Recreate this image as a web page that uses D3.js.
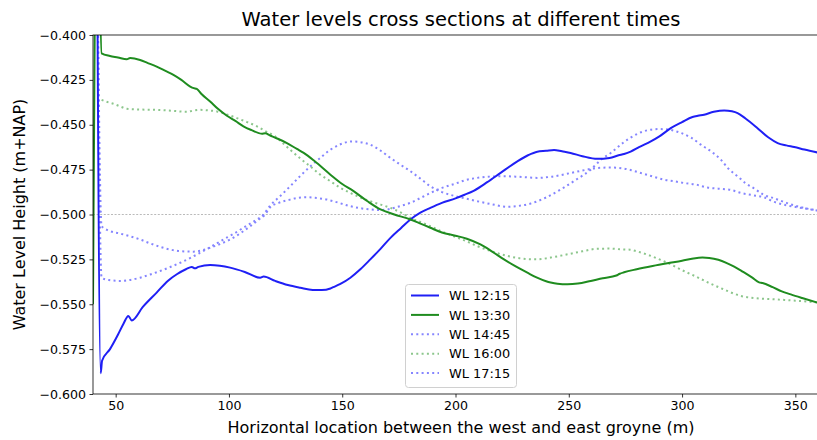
<!DOCTYPE html>
<html>
<head>
<meta charset="utf-8">
<script src="https://cdn.jsdelivr.net/npm/d3@7"></script>
<style>
  html, body { margin: 0; padding: 0; background: #fff; }
  svg { display: block; font-family: "DejaVu Sans", sans-serif; }
</style>
</head>
<body>
<svg id="chart" width="817" height="440"></svg>
<script>
// Water level along the cross section, [distance (m), level (m+NAP)]
const wl1215 = [
  [41.6, -0.30], [43.4, -0.5885], [44.0, -0.5815], [47.5, -0.575], [51, -0.567], [53.4, -0.561],
  [55.6, -0.5565], [57.1, -0.5590], [62, -0.5515], [68.1, -0.5435], [73, -0.537], [77, -0.5333],
  [81, -0.5305], [83.6, -0.5292], [85, -0.5300], [86.5, -0.5292], [91.7, -0.5282], [96, -0.5286],
  [100.5, -0.5296], [107, -0.532], [113.8, -0.5352], [115.3, -0.5346], [120.4, -0.537], [126, -0.5393],
  [131.5, -0.5408], [137, -0.5420], [141, -0.5421], [144.8, -0.5412], [146, -0.5405], [149, -0.5388],
  [153.6, -0.5352], [158, -0.5305], [162.4, -0.525], [167, -0.519], [171.3, -0.513], [176, -0.5075],
  [180.1, -0.5028], [184.5, -0.4990], [188.9, -0.4963], [194, -0.4935], [200, -0.4910], [204, -0.4890],
  [208, -0.4868], [214, -0.4820], [219.9, -0.4768], [227.3, -0.4704], [232, -0.4670], [236.1, -0.4650],
  [240, -0.4645], [243.5, -0.4640], [247, -0.4648], [250.8, -0.4657], [256, -0.4675], [262.6, -0.4690],
  [268, -0.4685], [272, -0.4670], [274.4, -0.4663], [277.3, -0.4650], [281, -0.4625], [286.2, -0.4593],
  [290, -0.4565], [295, -0.4519], [300, -0.4485], [304.6, -0.4457], [307, -0.4450], [309.7, -0.4444],
  [314, -0.4428], [318.6, -0.4420], [322, -0.4425], [324.5, -0.4435], [328, -0.4465], [333.3, -0.4519],
  [338, -0.4570], [342.2, -0.4602], [346, -0.4615], [349.5, -0.4624], [354, -0.4638], [360, -0.4655]
];

const wl1330 = [
  [40, -0.55], [41.8, -0.30], [43.8, -0.4102], [47.5, -0.4117], [51, -0.4125], [54.9, -0.4135],
  [56.4, -0.4128], [60.8, -0.4139], [64, -0.4155], [68.1, -0.4176], [72, -0.4200], [75.5, -0.4222],
  [79, -0.4250], [82.9, -0.4287], [84.5, -0.4296], [85.8, -0.4300], [88, -0.4330], [91.7, -0.4370],
  [95, -0.4410], [99.1, -0.4450], [103, -0.4480], [106.4, -0.4509], [110, -0.4530], [114.6, -0.4550],
  [116, -0.4548], [118.2, -0.4560], [121, -0.4575], [125.6, -0.4602], [130, -0.4635], [133, -0.4657],
  [138, -0.4705], [144.8, -0.4778], [150, -0.4830], [155, -0.4870], [161, -0.4925], [166.9, -0.4972],
  [173, -0.5000], [180.1, -0.5028], [184, -0.5048], [188.9, -0.5074], [194, -0.5100], [200, -0.5118],
  [205, -0.5135], [211, -0.5167], [216, -0.5205], [221.4, -0.5250], [226, -0.5285], [231.7, -0.5324],
  [236, -0.5352], [240, -0.5372], [242, -0.5379], [245, -0.5386], [249.4, -0.5389], [254, -0.5385],
  [259.7, -0.5370], [265, -0.5355], [271, -0.5340], [272.5, -0.5330], [274.4, -0.5322], [280, -0.5305],
  [287, -0.5287], [293.5, -0.5272], [300, -0.5258], [305, -0.5245], [309, -0.5240], [312, -0.5242],
  [316, -0.5252], [320, -0.5272], [323, -0.5290], [327, -0.5320], [331, -0.5352], [334, -0.5378],
  [335.5, -0.5382], [340, -0.5405], [344, -0.5428], [348, -0.5445], [353, -0.5465], [360, -0.5492]
];

const wl1445 = [
  [41.5, -0.30], [43.8, -0.5352], [47, -0.5365], [51.9, -0.5370], [56, -0.5365], [60.8, -0.5352],
  [65, -0.5335], [69.6, -0.5315], [74, -0.5293], [78.5, -0.5269], [83, -0.5242], [87.3, -0.5213],
  [92, -0.5180], [97.6, -0.5139], [102, -0.5108], [106.4, -0.5074], [111, -0.5038], [115.3, -0.5000],
  [118.2, -0.4950], [122, -0.4905], [127, -0.4843], [131.5, -0.4785], [135.9, -0.4732], [140, -0.4688],
  [144.8, -0.4639], [149, -0.4610], [154.3, -0.4593], [158, -0.4597], [162.4, -0.4611], [167, -0.4645],
  [171.3, -0.4685], [176, -0.4725], [180.1, -0.4759], [185, -0.4805], [188.9, -0.4843], [194, -0.4875],
  [200, -0.4898], [205, -0.4912], [209.6, -0.4926], [216, -0.4943], [222.9, -0.4957], [228, -0.4952],
  [233.2, -0.4939], [240, -0.4905], [246.4, -0.4861], [253, -0.4808], [259.7, -0.4750], [264, -0.4697],
  [268.5, -0.4657], [274, -0.4600], [279.6, -0.4555], [285, -0.4530], [290, -0.4524], [294, -0.4527],
  [299.5, -0.4546], [304, -0.4572], [308.3, -0.4611], [313, -0.4650], [317.1, -0.4694], [320.5, -0.4745],
  [324.5, -0.4787], [328, -0.4825], [331.8, -0.4855], [336, -0.4890], [340.7, -0.4910], [346, -0.4935],
  [352, -0.4958], [360, -0.4978]
];

const wl1600 = [
  [43.8, -0.4361], [46, -0.4372], [49, -0.4383], [52, -0.4398], [54.9, -0.4411], [60, -0.4415],
  [68.1, -0.4417], [75, -0.4422], [81.4, -0.4428], [84, -0.4422], [87.3, -0.4417], [91, -0.4420],
  [94.7, -0.4426], [99, -0.4442], [103.5, -0.4463], [108, -0.4485], [112.4, -0.4509], [116, -0.4535],
  [120.4, -0.4565], [124, -0.4605], [127, -0.4639], [131.5, -0.4688], [135.9, -0.4732], [140, -0.4775],
  [144.8, -0.4815], [149, -0.4850], [153.6, -0.4880], [158, -0.4905], [162.4, -0.4926], [167, -0.4945],
  [171.3, -0.4963], [176, -0.4990], [180.1, -0.5019], [184.5, -0.5042], [188.9, -0.5065], [194, -0.5095],
  [200, -0.5125], [205, -0.5150], [209.6, -0.5176], [216, -0.5205], [222.9, -0.5231], [229, -0.5245],
  [236.1, -0.5250], [242, -0.5240], [249.4, -0.5222], [256, -0.5205], [262.6, -0.5191], [268, -0.5190],
  [273, -0.5194], [277, -0.5196], [280, -0.5205], [285, -0.5225], [290, -0.5250], [295, -0.5278],
  [300, -0.5310], [306, -0.5345], [312, -0.5382], [318, -0.5415], [326, -0.5454], [333, -0.5467],
  [340, -0.5472], [350, -0.5480], [360, -0.5490]
];

const wl1715 = [
  [41.5, -0.30], [43.8, -0.5065], [47, -0.5090], [51.9, -0.5106], [56, -0.5120], [60.8, -0.5139],
  [65, -0.5160], [69.6, -0.5180], [74, -0.5195], [78.5, -0.5204], [84.3, -0.5207], [88, -0.5200],
  [91.7, -0.5185], [96, -0.5165], [100.5, -0.5139], [105, -0.5105], [109.4, -0.5065], [113, -0.5030],
  [116, -0.5000], [118.2, -0.4960], [122, -0.4935], [127, -0.4917], [130, -0.4908], [134.5, -0.4904],
  [138, -0.4907], [143.3, -0.4917], [148, -0.4933], [153.6, -0.4954], [158, -0.4965], [162.4, -0.4972],
  [166, -0.4975], [169.8, -0.4972], [175, -0.4955], [180.1, -0.4935], [185, -0.4905], [188.9, -0.4880],
  [194, -0.4852], [200, -0.4828], [204, -0.4810], [209.6, -0.4796], [215, -0.4789], [221.4, -0.4787],
  [228, -0.4790], [236.1, -0.4796], [242, -0.4790], [250.8, -0.4769], [256, -0.4755], [262.6, -0.4741],
  [268.5, -0.4738], [272, -0.4740], [277.3, -0.4752], [281.8, -0.4769], [287, -0.4788], [292, -0.4806],
  [296.5, -0.4815], [301, -0.4825], [306.8, -0.4835], [311.2, -0.4850], [316, -0.4856], [321.5, -0.4863],
  [326, -0.4880], [331, -0.4892], [336.3, -0.4905], [340.7, -0.4930], [346.6, -0.4950], [352, -0.4962],
  [360, -0.4978]
];

const seriesNames = ["WL 12:15", "WL 13:30", "WL 14:45", "WL 16:00", "WL 17:15"];
const seriesData = [wl1215, wl1330, wl1445, wl1600, wl1715];
const xTicks = [50, 100, 150, 200, 250, 300, 350];
const yTicks = [-0.600, -0.575, -0.550, -0.525, -0.500, -0.475, -0.450, -0.425, -0.400];
const referenceLevel = -0.5;

const blue = "#1f1ff5", green = "#1f8c1f";
const styles = [
  { color: blue, dash: null, width: 2 },
  { color: green, dash: null, width: 2 },
  { color: "#8585ff", dash: "2,3.3", width: 2 },
  { color: "#8cc68c", dash: "2,3.3", width: 2 },
  { color: "#8585ff", dash: "2,3.3", width: 2 }
];

const svg = d3.select("#chart");
const m = { left: 93, top: 35, right: 818, bottom: 394 };

const x = d3.scaleLinear().domain([40, 360]).range([m.left, m.right]);
const y = d3.scaleLinear().domain([-0.6, -0.4]).range([m.bottom, m.top]);

svg.append("defs").append("clipPath").attr("id", "plotclip")
  .append("rect").attr("x", m.left).attr("y", m.top)
  .attr("width", m.right - m.left).attr("height", m.bottom - m.top);

// reference level
svg.append("line")
  .attr("x1", m.left).attr("x2", m.right)
  .attr("y1", y(referenceLevel)).attr("y2", y(referenceLevel))
  .attr("stroke", "#a8a8a8").attr("stroke-width", 0.8)
  .attr("stroke-dasharray", "2,1.6");

const line = d3.line().x(d => x(d[0])).y(d => y(d[1])).curve(d3.curveMonotoneX);

const g = svg.append("g").attr("clip-path", "url(#plotclip)");
// draw dotted series first, solid ones on top
[2, 3, 4, 0, 1].forEach(i => {
  const s = styles[i];
  g.append("path")
    .datum(seriesData[i])
    .attr("fill", "none")
    .attr("stroke", s.color)
    .attr("stroke-width", s.width)
    .attr("stroke-dasharray", s.dash)
    .attr("stroke-linejoin", "round")
    .attr("d", line);
});

// axes
const xAxis = d3.axisBottom(x).tickValues(xTicks).tickSize(3.5).tickPadding(3.5)
  .tickFormat(d3.format("d"));
const yAxis = d3.axisLeft(y).tickValues(yTicks).tickSize(3.5).tickPadding(3.5)
  .tickFormat(d => d3.format(".3f")(d).replace("-", "\u2212"));

const gx = svg.append("g").attr("transform", `translate(0,${m.bottom})`).call(xAxis);
const gy = svg.append("g").attr("transform", `translate(${m.left},0)`).call(yAxis);
[gx, gy].forEach(a => {
  a.select(".domain").remove();
  a.selectAll(".tick line").attr("stroke", "#000").attr("stroke-width", 0.8);
  a.selectAll(".tick text").attr("fill", "#000")
    .style("font-family", "DejaVu Sans").style("font-size", "12.6px");
});

// frame
svg.append("rect")
  .attr("x", m.left).attr("y", m.top)
  .attr("width", m.right - m.left).attr("height", m.bottom - m.top)
  .attr("fill", "none").attr("stroke", "#000").attr("stroke-width", 0.8);

// titles
svg.append("text").attr("x", 461).attr("y", 25.5)
  .attr("text-anchor", "middle").style("font-size", "19.5px").attr("fill", "#000")
  .text("Water levels cross sections at different times");
svg.append("text").attr("x", 461).attr("y", 433)
  .attr("text-anchor", "middle").style("font-size", "16px").attr("fill", "#000")
  .text("Horizontal location between the west and east groyne (m)");
svg.append("text")
  .attr("transform", `translate(25,${(m.top + m.bottom) / 2}) rotate(-90)`)
  .attr("text-anchor", "middle").style("font-size", "16px").attr("fill", "#000")
  .text("Water Level Height (m+NAP)");

// legend
const lg = svg.append("g").attr("transform", "translate(405,284)");
lg.append("rect").attr("x", 0.5).attr("y", 0.5).attr("width", 111).attr("height", 103)
  .attr("rx", 3).attr("fill", "#fff").attr("fill-opacity", 0.8)
  .attr("stroke", "#d0d0d0").attr("stroke-width", 1);
seriesNames.forEach((name, i) => {
  const yy = 11.5 + i * 19.4;
  const s = styles[i];
  lg.append("line").attr("x1", 6).attr("x2", 34).attr("y1", yy).attr("y2", yy)
    .attr("stroke", s.color).attr("stroke-width", s.width)
    .attr("stroke-dasharray", s.dash);
  lg.append("text").attr("x", 44).attr("y", yy).attr("dy", "0.36em")
    .style("font-size", "12.9px").attr("fill", "#000").text(name);
});
</script>
</body>
</html>
